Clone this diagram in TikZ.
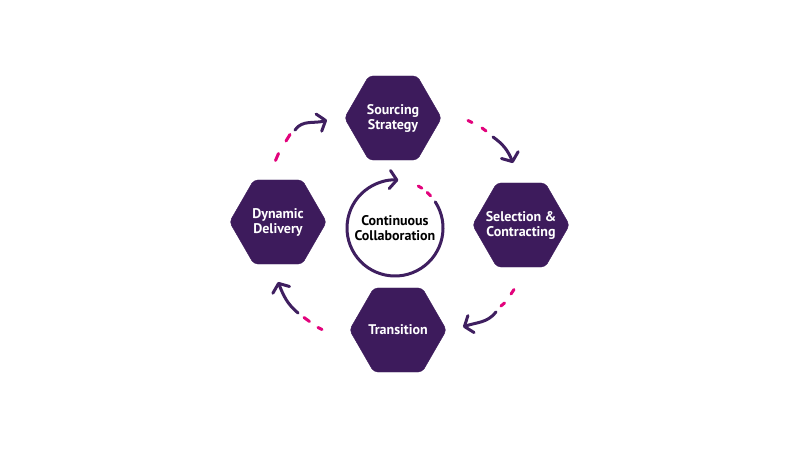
\documentclass[tikz,border=0pt]{standalone}
\usepackage{fontspec}
\setmainfont{PT Sans}
\usetikzlibrary{shapes.geometric,arrows.meta}
\definecolor{hexpurple}{HTML}{3D1B5C}
\definecolor{arrowpurple}{HTML}{3F1F60}
\definecolor{accentpink}{HTML}{E2037C}
\tikzset{
  hexbox/.style={regular polygon, regular polygon sides=6, minimum size=97pt,
    fill=hexpurple, draw=hexpurple, rounded corners=4pt, inner sep=0pt},
  hextext/.style={text=white, font=\bfseries\fontsize{14}{15}\selectfont, align=center, inner sep=0pt},
  pinkseg/.style={draw=accentpink, line width=3pt, line cap=round},
  flowarrow/.style={draw=arrowpurple, line width=3pt, line cap=round,
    -{Straight Barb[length=7pt,width=18pt,round]}},
}
\begin{document}
\begin{tikzpicture}[x=1pt,y=1pt]
\useasboundingbox (0,0) rectangle (800,450);
\fill[white] (0,0) rectangle (800,450);
% hexagons
\node[hexbox] (S) at (393,332) {};
\node[hextext] (St) at (S) {Sourcing\\Strategy};
\node[hexbox] (C) at (521,225) {};
\node[hextext] (Ct) at (C) {Selection \&\\Contracting};
\node[hexbox] (T) at (398,120) {};
\node[hextext] (Tt) at (T) {Transition};
\node[hexbox] (D) at (278,228) {};
\node[hextext] (Dt) at (D) {Dynamic\\Delivery};
% centre circle
\coordinate (O) at (395,222);
\node[font=\bfseries\fontsize{14}{15.5}\selectfont, align=center, text=black, inner sep=0pt] (CC) at (O) {Continuous\\Collaboration};
\draw[pinkseg] (O) ++(61:48) arc[start angle=61, end angle=56, radius=48];
\draw[pinkseg] (O) ++(48:48) arc[start angle=48, end angle=42, radius=48];
\draw[flowarrow] (O) ++(33:48) arc[start angle=33, end angle=-274, radius=48];
% top-left arrow (Dynamic -> Sourcing)
\coordinate (a1) at (275.5,289.5);
\coordinate (a2) at (278.5,296.5);
\coordinate (a3) at (286,309);
\coordinate (a4) at (290,315.5);
\coordinate (a5) at (295,320);
\coordinate (a6) at (327,330);
\draw[pinkseg] (a1) -- (a2);
\draw[pinkseg] (a3) -- (a4);
\draw[flowarrow] (a5) to[out=55,in=198] (a6);
% top-right arrow (Sourcing -> Selection)
\coordinate (b1) at (468,329.5);
\coordinate (b2) at (472,327.5);
\coordinate (b3) at (482,322);
\coordinate (b4) at (486,319);
\coordinate (b5) at (493,313);
\coordinate (b6) at (513,287);
\draw[pinkseg] (b1) -- (b2);
\draw[pinkseg] (b3) -- (b4);
\draw[flowarrow] (b5) to[out=-35,in=112] (b6);
% bottom-right arrow (Selection -> Transition)
\coordinate (c1) at (514,160.5);
\coordinate (c2) at (511,156);
\coordinate (c3) at (504.5,147);
\coordinate (c4) at (501,144);
\coordinate (c5) at (496,138);
\coordinate (c6) at (463,123);
\draw[pinkseg] (c1) -- (c2);
\draw[pinkseg] (c3) -- (c4);
\draw[flowarrow] (c5) to[out=-128,in=20] (c6);
\coordinate (d1) at (322,120.5);
\coordinate (d2) at (318,122.5);
\coordinate (d3) at (309.5,128.5);
\coordinate (d4) at (304,132.5);
\coordinate (d5) at (298,137);
\coordinate (d6) at (278,168);
\draw[pinkseg] (d1) -- (d2);
\draw[pinkseg] (d3) -- (d4);
\draw[flowarrow] (d5) to[out=140,in=-68] (d6);
\end{tikzpicture}
\end{document}
